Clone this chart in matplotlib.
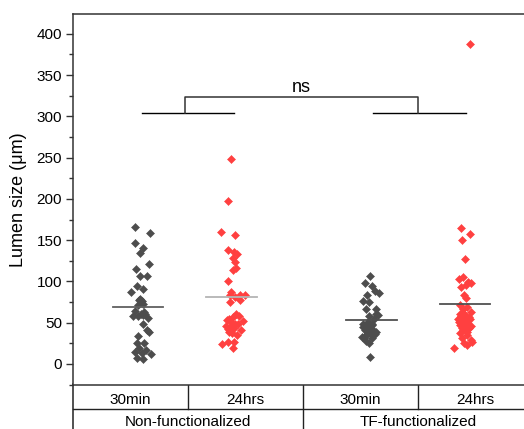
import numpy as np
import matplotlib.pyplot as plt
from matplotlib.ticker import MultipleLocator

plt.rcParams['font.family'] = ['Liberation Sans', 'DejaVu Sans']

# Lumen size (um), with horizontal jitter per point
nf30 = [166.5, 159, 146, 140, 134, 120.6, 115, 107, 107, 95, 91, 87.5, 79, 76, 73, 71,
        64, 63, 60, 59, 58, 57.7, 56, 49, 41, 39, 34, 26, 25, 19, 17, 15, 13, 12.5, 7, 6, 77, 61]
nf30_jit = [-0.03, 0.13, -0.03, 0.05, 0.02, 0.12, -0.02, 0.02, 0.10, -0.01, 0.05, -0.07, 0.02, 0.04, 0.05, 0.0,
            -0.03, 0.06, 0.03, 0.05, 0.0, -0.05, 0.11, 0.05, 0.10, 0.12, 0.0, 0.06, -0.01, 0.01, 0.09, -0.03, 0.04, 0.14, -0.01, 0.05, 0.01, 0.07]

nf24 = [248, 198, 160, 156, 138, 136, 133, 128, 123, 116, 114, 100, 87.5, 84, 83, 83, 81, 77, 75,
        60, 57, 55, 52, 51, 49, 45, 43, 41, 39, 37, 27, 27, 24, 19, 53, 48, 46, 58, 35, 42]
nf24_jit = [0.0, -0.04, -0.11, 0.04, -0.04, 0.03, 0.06, 0.02, 0.04, 0.05, 0.02, -0.04, 0.0, -0.01, 0.15, 0.09, 0.04, 0.09, -0.01,
            0.05, 0.02, -0.03, 0.12, 0.0, 0.04, -0.02, 0.03, 0.10, -0.03, 0.01, -0.04, 0.03, -0.10, 0.02, -0.05, 0.07, -0.06, 0.08, 0.06, -0.04]

tf30 = [107, 98, 94, 88, 85.5, 83.5, 76, 75, 66.5, 66, 59, 58.5, 51, 49, 45, 43, 39, 35, 32, 28, 25, 9,
        47, 41, 55, 37, 47, 35, 31, 61, 40, 44, 33, 36, 48]
tf30_jit = [-0.02, -0.07, 0.0, 0.04, 0.08, -0.05, -0.09, -0.03, 0.05, -0.06, 0.07, -0.03, -0.04, 0.0, -0.09, -0.02, 0.05, -0.06, 0.0, -0.06, -0.03, -0.02,
            0.01, -0.07, 0.03, -0.04, -0.06, 0.01, -0.08, 0.05, 0.03, -0.05, -0.10, 0.04, -0.09]

tf24 = [387.8, 165, 157, 150, 126.6, 105.6, 103, 99.6, 97.6, 95.6, 93.5, 83.5, 80, 71, 69, 66, 63, 61, 59, 57,
        55, 52, 50, 47, 45, 41, 37, 35, 29, 27, 25, 19, 23, 54, 48, 58, 43, 62, 39, 51, 46, 44, 53, 32]
tf24_jit = [0.05, -0.04, 0.05, -0.03, 0.0, -0.02, -0.06, 0.03, 0.06, 0.01, -0.04, -0.01, 0.01, -0.05, 0.02, -0.02, 0.07, -0.05, 0.0, 0.04,
            -0.07, -0.02, 0.02, -0.05, 0.0, -0.02, -0.05, 0.02, 0.06, 0.08, -0.01, -0.12, 0.02, 0.05, 0.03, -0.04, 0.04, -0.02, 0.02, -0.06, 0.06, -0.03, 0.01, -0.03]

groups = [nf30, nf24, tf30, tf24]
jitters = [nf30_jit, nf24_jit, tf30_jit, tf24_jit]
xpos = [1, 2, 3.5, 4.5]
colors = ["#4d4d4d", "#ff4040", "#4d4d4d", "#ff4040"]
mean_colors = ["#606060", "#b4b4b4", "#505050", "#505050"]

time_labels = ["30min", "24hrs", "30min", "24hrs"]
cond_labels = ["Non-functionalized", "TF-functionalized"]

W, H = 524, 429
fig = plt.figure(figsize=(W / 100, H / 100), dpi=100)
ax = fig.add_axes([73 / W, (H - 384.6) / H, (W - 73) / W, (384.6 - 14) / H])

for x, vals, jit, c, mc in zip(xpos, groups, jitters, colors, mean_colors):
    vals = np.array(vals)
    ax.plot(x + np.array(jit), vals, 'D', ms=3.6, color=c, mec=c, mew=0.4, zorder=3)
    ax.plot([x - 0.27, x + 0.27], [vals.mean()] * 2, color=mc, lw=1.3, zorder=4)

# significance bracket
ax.plot([1.04, 2.03], [303.5, 303.5], color="black", lw=1)
ax.plot([3.52, 4.51], [303.5, 303.5], color="black", lw=1)
ax.plot([1.5, 1.5, 4.0, 4.0], [303.5, 324, 324, 303.5], color="#333333", lw=1.1)
ax.text(2.75, 330, "ns", ha="center", va="baseline", fontsize=13)

ax.set_xlim(0.304, 1 + (W - 138) / 93.4)
ax.set_ylim(-25, 424)
ax.yaxis.set_major_locator(MultipleLocator(50))
ax.yaxis.set_minor_locator(MultipleLocator(25))
ax.set_xticks([])
ax.tick_params(axis='y', which='major', direction='out', length=5, width=1, labelsize=11, pad=3, color="#333333")
ax.tick_params(axis='y', which='minor', direction='out', length=3, width=1, color="#333333")
ax.set_ylabel("Lumen size (μm)", fontsize=13, labelpad=7)
for side in ["left", "top", "bottom"]:
    ax.spines[side].set_color("#333333")
    ax.spines[side].set_linewidth(1.1)
ax.spines["right"].set_visible(False)

# category table under the plot, in pixel coordinates
tb = fig.add_axes([0, 0, 1, 1], zorder=-1)
tb.set_xlim(0, W)
tb.set_ylim(H, 0)
tb.axis("off")
lc = "#222222"
tb.plot([73, 73], [384, H], color=lc, lw=1.1)
tb.plot([73, W], [409, 409], color=lc, lw=1)
for xv in [188, 418]:
    tb.plot([xv, xv], [384, 409], color=lc, lw=1)
tb.plot([303, 303], [384, H], color=lc, lw=1)
for cx, lab in zip([130.5, 245.5, 360.5, 475.5], time_labels):
    tb.text(cx, 403.5, lab, ha="center", va="baseline", fontsize=11)
for cx, lab in zip([188, 418], cond_labels):
    tb.text(cx, 426, lab, ha="center", va="baseline", fontsize=11)

fig.savefig("out.png", dpi=100)
